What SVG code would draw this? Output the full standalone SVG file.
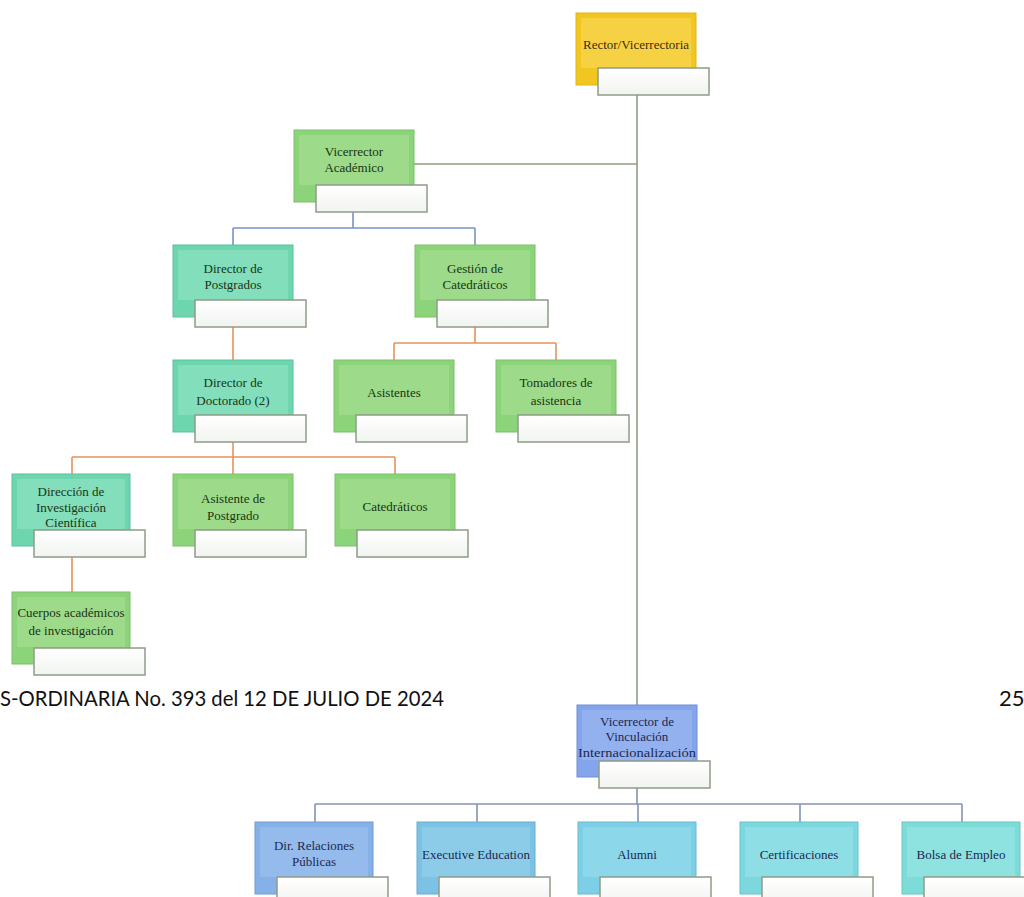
<svg xmlns="http://www.w3.org/2000/svg" width="1024" height="897" viewBox="0 0 1024 897">
<defs>
<linearGradient id="sub" x1="0" y1="0" x2="0" y2="1"><stop offset="0" stop-color="#ffffff"/><stop offset="1" stop-color="#f1f4f0"/></linearGradient>
</defs>
<style>
.box{stroke-width:1}
.in{stroke:none;opacity:0.4}
.sub{fill:url(#sub);stroke:#8f9c88;stroke-width:1.5}
.t{font-family:"Liberation Serif","Times New Roman",serif;font-size:13px;text-anchor:middle}
.tg{fill:#1a3414}
.tb{fill:#1c2850}
.ty{fill:#3a3010}
.y .box{fill:#f2c620;stroke:#e0b418}.y .in{fill:#fde27a}
.g .box{fill:#8cd47a;stroke:#7bbf6a}.g .in{fill:#b6e6a2}
.tl .box{fill:#6dd6ae;stroke:#5cc19a}.tl .in{fill:#a6ecd0}
.bl .box{fill:#84a4ec;stroke:#6f8ed6}.bl .in{fill:#aac2f5}
.b1 .box{fill:#86b1e8;stroke:#6f9bd2}.b1 .in{fill:#aacbf2}
.b2 .box{fill:#7cc2e4;stroke:#67adcf}.b2 .in{fill:#a6dbf0}
.b3 .box{fill:#7ccfe4;stroke:#67bacf}.b3 .in{fill:#a6e3f0}
.b4 .box{fill:#7dd7df;stroke:#68c2ca}.b4 .in{fill:#a8e9ee}
.b5 .box{fill:#7ddcd8;stroke:#68c7c3}.b5 .in{fill:#a8ecea}
.c{fill:none;stroke-width:1.6}
.cg{stroke:#8f9f80}
.cb{stroke:#7a92c8}
.co{stroke:#e8925a}
.cv{stroke:#8494b4}
.foot{font-family:Lato,"Liberation Sans",sans-serif;font-size:22px;fill:#111}
</style>

<g id="connectors">
<path class="c cg" d="M637 95 V705 M414 164 H637"/>
<path class="c cb" d="M353 212 V228 M233 228 H475 M233 228 V245 M475 228 V245"/>
<path class="c co" d="M233 327 V360"/>
<path class="c co" d="M475 327 V343 M394 343 H556 M394 343 V360 M556 343 V360"/>
<path class="c co" d="M233 442 V457 M72 457 H395 M72 457 V474 M233 457 V474 M395 457 V474"/>
<path class="c co" d="M72 556 V592"/>
<path class="c cv" d="M637 787 V804 M315 804 H962 M315 804 V822 M477 804 V822 M638 804 V822 M800 804 V822 M962 804 V822"/>
</g>

<g id="n-rector" class="y">
<rect class="box" x="576" y="13" width="120" height="72"/><rect class="in" x="581" y="18" width="110" height="50"/>
<rect class="sub" x="598" y="68" width="111" height="27"/>
<text class="t ty" x="636" y="49">Rector/Vicerrectoria</text>
</g>

<g id="n-vicerrector-academico" class="g">
<rect class="box" x="294" y="130" width="120" height="72"/><rect class="in" x="299" y="135" width="110" height="50"/>
<rect class="sub" x="316" y="185" width="111" height="27"/>
<text class="t tg" x="354" y="156">Vicerrector</text>
<text class="t tg" x="354" y="172">Académico</text>
</g>

<g id="n-director-postgrados" class="tl">
<rect class="box" x="173" y="245" width="120" height="72"/><rect class="in" x="178" y="250" width="110" height="50"/>
<rect class="sub" x="195" y="300" width="111" height="27"/>
<text class="t tg" x="233" y="273">Director de</text>
<text class="t tg" x="233" y="289">Postgrados</text>
</g>

<g id="n-gestion-catedraticos" class="g">
<rect class="box" x="415" y="245" width="120" height="72"/><rect class="in" x="420" y="250" width="110" height="50"/>
<rect class="sub" x="437" y="300" width="111" height="27"/>
<text class="t tg" x="475" y="273">Gestión de</text>
<text class="t tg" x="475" y="289">Catedráticos</text>
</g>

<g id="n-director-doctorado" class="tl">
<rect class="box" x="173" y="360" width="120" height="72"/><rect class="in" x="178" y="365" width="110" height="50"/>
<rect class="sub" x="195" y="415" width="111" height="27"/>
<text class="t tg" x="233" y="387">Director de</text>
<text class="t tg" x="233" y="405">Doctorado (2)</text>
</g>

<g id="n-asistentes" class="g">
<rect class="box" x="334" y="360" width="120" height="72"/><rect class="in" x="339" y="365" width="110" height="50"/>
<rect class="sub" x="356" y="415" width="111" height="27"/>
<text class="t tg" x="394" y="397">Asistentes</text>
</g>

<g id="n-tomadores" class="g">
<rect class="box" x="496" y="360" width="120" height="72"/><rect class="in" x="501" y="365" width="110" height="50"/>
<rect class="sub" x="518" y="415" width="111" height="27"/>
<text class="t tg" x="556" y="387">Tomadores de</text>
<text class="t tg" x="556" y="405">asistencia</text>
</g>

<g id="n-direccion-investigacion" class="tl">
<rect class="box" x="12" y="474" width="118" height="72"/><rect class="in" x="17" y="479" width="108" height="50"/>
<rect class="sub" x="34" y="530" width="111" height="27"/>
<text class="t tg" x="71" y="496">Dirección de</text>
<text class="t tg" x="71" y="512">Investigación</text>
<text class="t tg" x="71" y="527">Científica</text>
</g>

<g id="n-asistente-postgrado" class="g">
<rect class="box" x="173" y="474" width="120" height="72"/><rect class="in" x="178" y="479" width="110" height="50"/>
<rect class="sub" x="195" y="530" width="111" height="27"/>
<text class="t tg" x="233" y="503">Asistente de</text>
<text class="t tg" x="233" y="520">Postgrado</text>
</g>

<g id="n-catedraticos" class="g">
<rect class="box" x="335" y="474" width="120" height="72"/><rect class="in" x="340" y="479" width="110" height="50"/>
<rect class="sub" x="357" y="530" width="111" height="27"/>
<text class="t tg" x="395" y="511">Catedráticos</text>
</g>

<g id="n-cuerpos-academicos" class="g">
<rect class="box" x="12" y="592" width="118" height="72"/><rect class="in" x="17" y="597" width="108" height="50"/>
<rect class="sub" x="34" y="648" width="111" height="27"/>
<text class="t tg" x="71" y="617">Cuerpos académicos</text>
<text class="t tg" x="71" y="635">de investigación</text>
</g>

<text id="footer-left" class="foot" x="0" y="706" textLength="444" lengthAdjust="spacingAndGlyphs">S-ORDINARIA No. 393 del 12 DE JULIO DE 2024</text>
<text id="footer-right" class="foot" x="999" y="706">25</text>

<g id="n-vicerrector-vinculacion" class="bl">
<rect class="box" x="577" y="705" width="120" height="72"/><rect class="in" x="582" y="710" width="110" height="50"/>
<rect class="sub" x="599" y="761" width="111" height="27"/>
<text class="t tb" x="637" y="726">Vicerrector de</text>
<text class="t tb" x="637" y="741">Vinculación</text>
<text class="t tb" x="637" y="757" textLength="118" lengthAdjust="spacingAndGlyphs">Internacionalización</text>
</g>

<g id="n-relaciones-publicas" class="b1">
<rect class="box" x="255" y="822" width="118" height="72"/><rect class="in" x="260" y="827" width="108" height="50"/>
<rect class="sub" x="277" y="877" width="111" height="27"/>
<text class="t tb" x="314" y="850">Dir. Relaciones</text>
<text class="t tb" x="314" y="866">Públicas</text>
</g>

<g id="n-executive-education" class="b2">
<rect class="box" x="417" y="822" width="118" height="72"/><rect class="in" x="422" y="827" width="108" height="50"/>
<rect class="sub" x="439" y="877" width="111" height="27"/>
<text class="t tb" x="476" y="859">Executive Education</text>
</g>

<g id="n-alumni" class="b3">
<rect class="box" x="578" y="822" width="118" height="72"/><rect class="in" x="583" y="827" width="108" height="50"/>
<rect class="sub" x="600" y="877" width="111" height="27"/>
<text class="t tb" x="637" y="859">Alumni</text>
</g>

<g id="n-certificaciones" class="b4">
<rect class="box" x="740" y="822" width="118" height="72"/><rect class="in" x="745" y="827" width="108" height="50"/>
<rect class="sub" x="762" y="877" width="111" height="27"/>
<text class="t tb" x="799" y="859">Certificaciones</text>
</g>

<g id="n-bolsa-empleo" class="b5">
<rect class="box" x="902" y="822" width="118" height="72"/><rect class="in" x="907" y="827" width="108" height="50"/>
<rect class="sub" x="924" y="877" width="111" height="27"/>
<text class="t tb" x="961" y="859">Bolsa de Empleo</text>
</g>
</svg>
